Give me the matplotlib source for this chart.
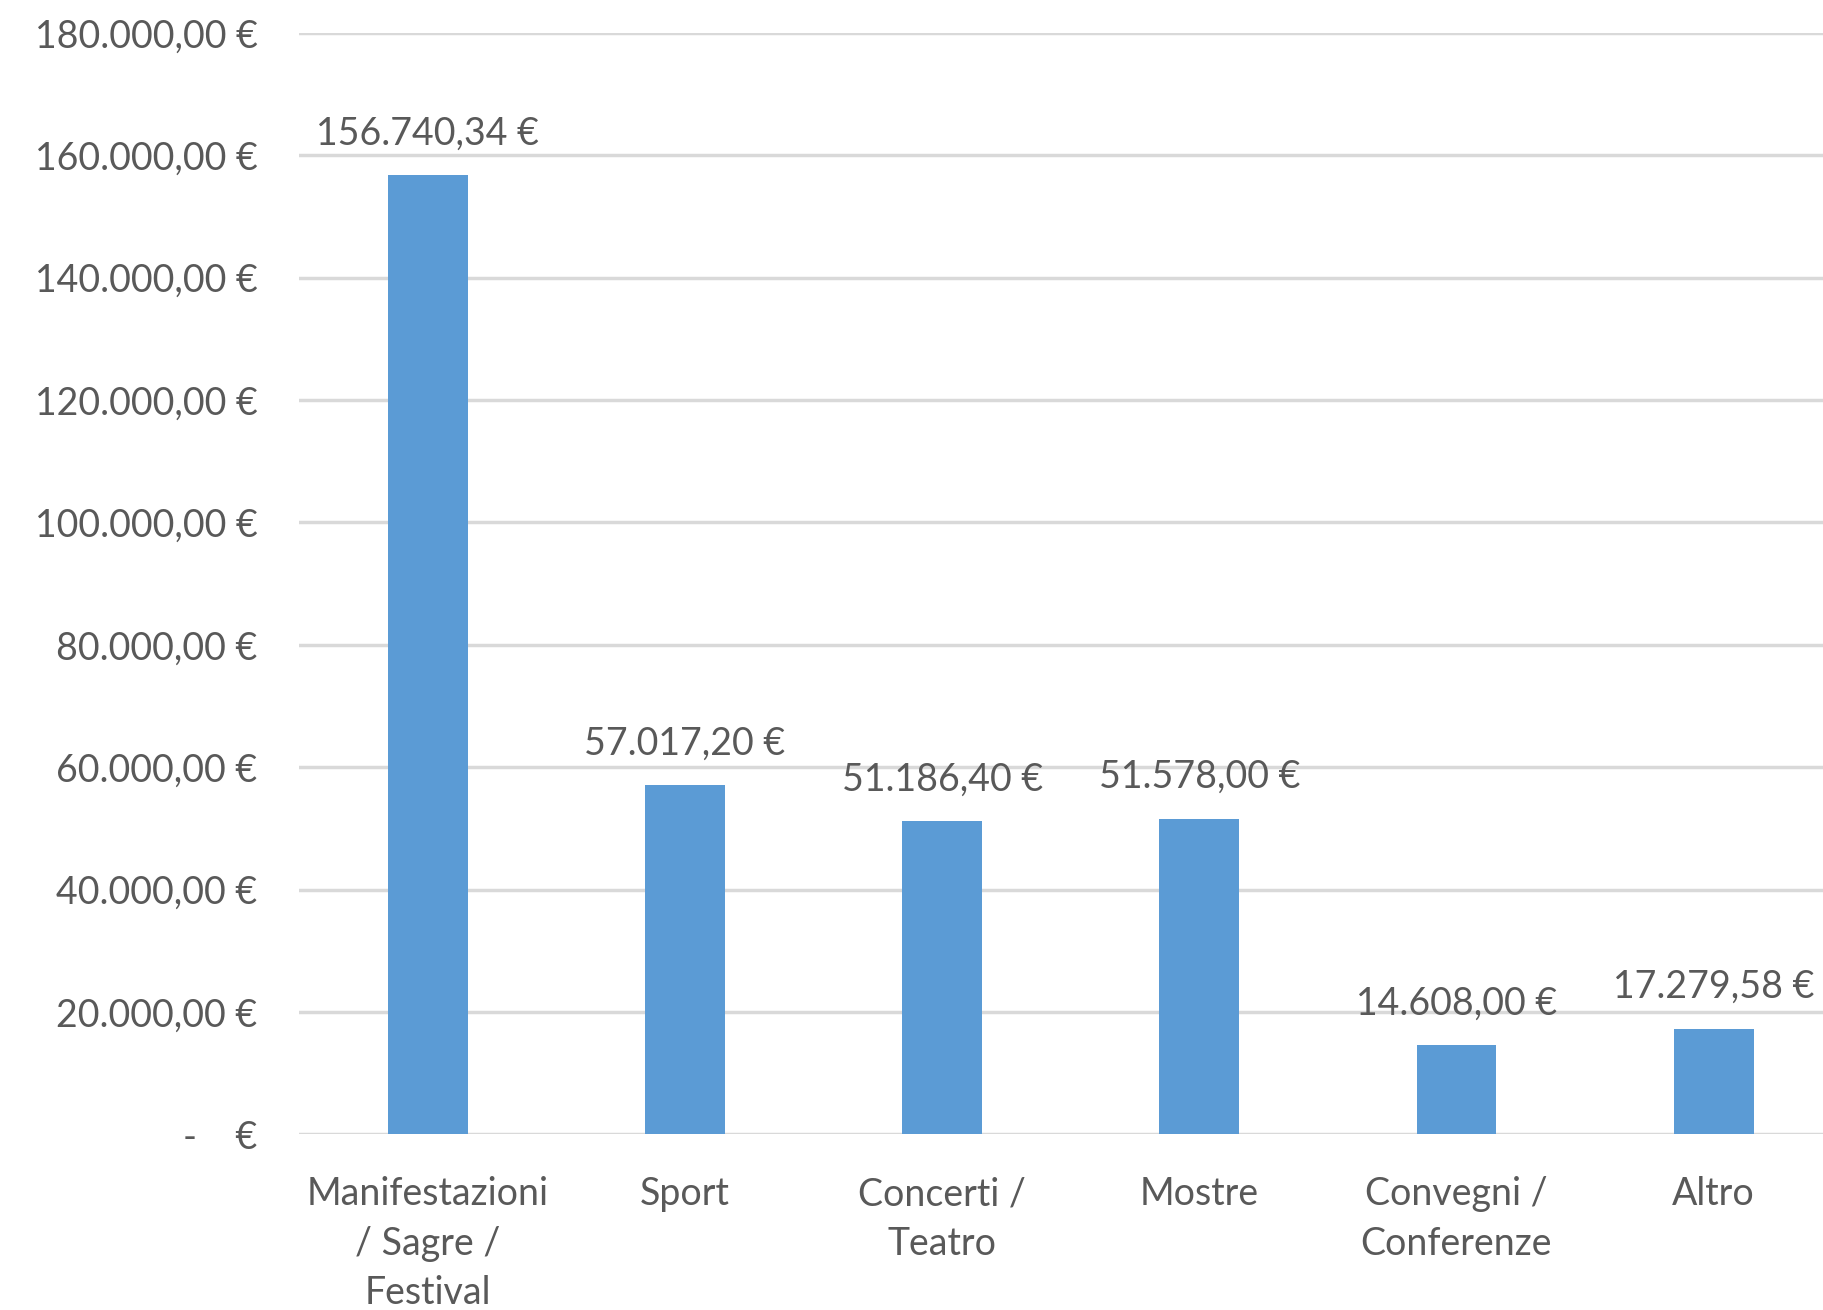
import matplotlib
matplotlib.use("Agg")
import matplotlib.pyplot as plt
from matplotlib.ticker import FuncFormatter

# Data
categories = ["Manifestazioni\n/ Sagre /\nFestival", "Sport", "Concerti /\nTeatro",
              "Mostre", "Convegni /\nConferenze", "Altro"]
values = [156740.34, 57017.20, 51186.40, 51578.00, 14608.00, 17279.58]
y_ticks = [0, 20000, 40000, 60000, 80000, 100000, 120000, 140000, 160000, 180000]

plt.rcParams["font.family"] = ["Lato", "DejaVu Sans"]
text_color = "#595959"


def fmt_eur(v, pos=None):
    if v == 0:
        return "-    €"
    s = f"{v:,.2f}"
    s = s.replace(",", "X").replace(".", ",").replace("X", ".")
    return s + " €"


fig = plt.figure(figsize=(18.24, 13.10), dpi=100)
ax = fig.add_axes([0.164, 0.134, 0.846, 0.841])

x = range(len(values))
bars = ax.bar(x, values, width=0.31, color="#5B9BD5", zorder=3)

ax.set_xlim(-0.5, 5.5)
ax.set_ylim(0, 180000)
ax.set_yticks(y_ticks)
ax.yaxis.set_major_formatter(FuncFormatter(fmt_eur))
ax.set_xticks(list(x))
ax.set_xticklabels(categories, linespacing=1.47)

ax.grid(axis="y", color="#d9d9d9", linewidth=2.5, zorder=0)
for side in ["top", "right", "left", "bottom"]:
    ax.spines[side].set_visible(False)

ax.tick_params(axis="both", length=0, labelsize=27, labelcolor=text_color)
ax.tick_params(axis="y", pad=30)
ax.tick_params(axis="x", pad=30)

# Value labels above bars
for b, v in zip(bars, values):
    ax.annotate(fmt_eur(v), (b.get_x() + b.get_width() / 2, v),
                xytext=(0, 22), textcoords="offset points",
                ha="center", va="baseline", fontsize=27, color=text_color)

fig.savefig("out.png", dpi=100)
